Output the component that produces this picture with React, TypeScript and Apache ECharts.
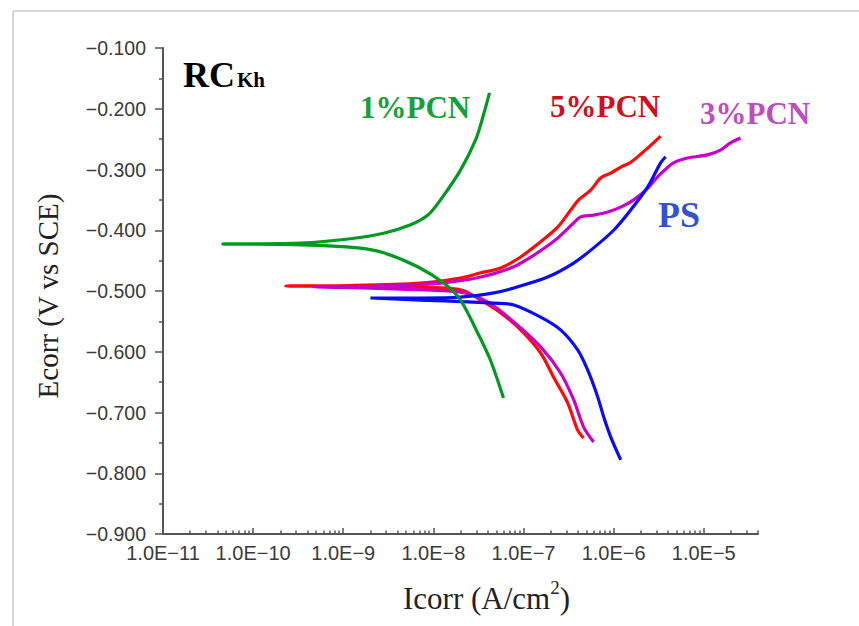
import React, { useEffect, useRef } from 'react';
import * as echarts from 'echarts';

// ---- Data ----
// Each curve runs from the cathodic end, through the corrosion point, to the anodic end.
const pcn1Current = [6.0e-8, 4.3e-8, 3.1e-8, 2.0e-8, 1.3e-8, 6.7e-9, 2.8e-9, 1.45e-9, 3.4e-10, 4.6e-11, 3.4e-10, 1.2e-9, 2.8e-9, 5.6e-9, 8.7e-9, 1.2e-8, 2.0e-8, 2.95e-8, 3.6e-8, 4.2e-8];
const pcn1Potential = [-0.676, -0.614, -0.569, -0.515, -0.487, -0.46, -0.437, -0.429, -0.424, -0.4226, -0.421, -0.414, -0.405, -0.391, -0.375, -0.35, -0.301, -0.251, -0.21, -0.174];

const pcn5Current = [4.65e-7, 3.99e-7, 3.09e-7, 2.16e-7, 1.55e-7, 9.3e-8, 5.6e-8, 3.35e-8, 2.0e-8, 4.4e-9, 4.7e-10, 2.3e-10, 1.2e-9, 7.2e-9, 2.0e-8, 3.35e-8, 5.6e-8, 9.3e-8, 1.55e-7, 2.39e-7, 3.33e-7, 4.09e-7, 5.56e-7, 7.18e-7, 9.27e-7, 1.2e-6, 1.55e-6, 2.38e-6, 3.32e-6];
const pcn5Potential = [-0.742, -0.729, -0.684, -0.642, -0.602, -0.564, -0.536, -0.515, -0.498, -0.493, -0.492, -0.4918, -0.491, -0.487, -0.4786, -0.47, -0.462, -0.444, -0.419, -0.395, -0.367, -0.35, -0.334, -0.314, -0.306, -0.296, -0.288, -0.265, -0.245];

const pcn3Current = [6.0e-7, 4.65e-7, 3.6e-7, 2.58e-7, 1.55e-7, 7.8e-8, 4.0e-8, 2.0e-8, 4.4e-9, 9.4e-10, 4.7e-10, 2.6e-9, 1.2e-8, 3.35e-8, 7.8e-8, 1.43e-7, 2.39e-7, 3.6e-7, 4.3e-7, 6.0e-7, 8.6e-7, 1.2e-6, 1.67e-6, 2.38e-6, 3.08e-6, 4.62e-6, 6.6e-6, 1.1e-5, 1.53e-5, 1.98e-5, 2.56e-5];
const pcn3Potential = [-0.7486, -0.724, -0.679, -0.635, -0.592, -0.551, -0.518, -0.502, -0.497, -0.494, -0.493, -0.492, -0.487, -0.477, -0.46, -0.437, -0.413, -0.388, -0.378, -0.375, -0.37, -0.362, -0.35, -0.331, -0.312, -0.289, -0.281, -0.276, -0.268, -0.256, -0.248];

const psCurrent = [1.2e-6, 9.27e-7, 7.75e-7, 6.65e-7, 5.15e-7, 3.99e-7, 2.58e-7, 1.55e-7, 7.8e-8, 4.7e-8, 2.4e-8, 7.2e-9, 2.0e-9, 7.2e-9, 2.0e-8, 4.7e-8, 7.8e-8, 1.85e-7, 3.6e-7, 6.0e-7, 1.0e-6, 1.54e-6, 2.38e-6, 3.32e-6, 3.78e-6];
const psPotential = [-0.778, -0.74, -0.707, -0.674, -0.63, -0.597, -0.564, -0.543, -0.523, -0.52, -0.518, -0.515, -0.5115, -0.5115, -0.51, -0.503, -0.495, -0.477, -0.454, -0.429, -0.4, -0.367, -0.329, -0.289, -0.279];

const xMajorTicks = [1e-11, 1e-10, 1e-9, 1e-8, 1e-7, 1e-6, 1e-5];
const xMin = 1e-11;
const xMax = 4e-5;
const yMin = -0.9;
const yMax = -0.1;
const yInterval = 0.1;

const minorMultipliers = [2, 3, 4, 5, 6, 7, 8, 9];
const xMinorTicks: number[] = [];
xMajorTicks.forEach((d) => {
  minorMultipliers.forEach((m) => {
    const v = m * d;
    if (v <= xMax) xMinorTicks.push(v);
  });
});

const pairs = (xs: number[], ys: number[]) => xs.map((x, i) => [x, ys[i]]);

const AXIS_COLOR = '#555';
const SERIF = '"Liberation Serif", "Times New Roman", serif';
const SANS = '"Liberation Sans", Arial, sans-serif';

const fmtX = (v: number) => {
  const e = Math.round(Math.log10(v));
  return '1.0E' + (e < 0 ? '\u2212' : '') + Math.abs(e);
};
const fmtY = (v: number) => (v < 0 ? '\u2212' : '') + Math.abs(v).toFixed(3);

function lineSeries(name: string, xs: number[], ys: number[], color: string) {
  return {
    name,
    type: 'line',
    xAxisIndex: 0,
    yAxisIndex: 0,
    data: pairs(xs, ys),
    showSymbol: false,
    symbol: 'none',
    smooth: 0.3,
    lineStyle: { color, width: 3.2 },
    itemStyle: { color },
  };
}

export default function App() {
  const ref = useRef<HTMLDivElement>(null);
  useEffect(() => {
    const chart = echarts.init(ref.current!, null, { renderer: 'svg' });
    const option: any = {
      animation: false,
      backgroundColor: '#ffffff',
      grid: { left: 163, top: 48, right: 101, bottom: 92, containLabel: false, outerBoundsMode: 'none' },
      xAxis: [
        {
          type: 'log',
          logBase: 10,
          min: xMin,
          max: xMax,
          position: 'bottom',
          axisLine: { show: true, onZero: false, lineStyle: { color: AXIS_COLOR, width: 2 } },
          axisTick: { show: true, inside: true, length: 6, customValues: xMajorTicks, lineStyle: { color: AXIS_COLOR, width: 1.5 } },
          axisLabel: {
            show: true,
            customValues: xMajorTicks,
            formatter: fmtX,
            margin: 9,
            fontFamily: SANS,
            fontSize: 20,
            color: '#3a3a3a',
          },
          splitLine: { show: false },
          minorTick: { show: false },
        },
        {
          type: 'log',
          logBase: 10,
          min: xMin,
          max: xMax,
          position: 'bottom',
          axisLine: { show: false },
          axisTick: { show: true, inside: true, length: 3.5, customValues: xMinorTicks, lineStyle: { color: AXIS_COLOR, width: 1.5 } },
          axisLabel: { show: false },
          splitLine: { show: false },
        },
      ],
      yAxis: {
        type: 'value',
        min: yMin,
        max: yMax,
        interval: yInterval,
        axisLine: { show: true, onZero: false, lineStyle: { color: AXIS_COLOR, width: 2 } },
        axisTick: { show: true, inside: false, length: 8, lineStyle: { color: AXIS_COLOR, width: 1.5 } },
        minorTick: { show: true, splitNumber: 2, length: 4, lineStyle: { color: AXIS_COLOR, width: 1.5 } },
        axisLabel: {
          formatter: fmtY,
          margin: 17,
          fontFamily: SANS,
          fontSize: 19.5,
          color: '#3a3a3a',
        },
        splitLine: { show: false },
      },
      series: [
        lineSeries('5%PCN', pcn5Current, pcn5Potential, '#ff0a0a'),
        lineSeries('3%PCN', pcn3Current, pcn3Potential, '#c800c8'),
        lineSeries('PS', psCurrent, psPotential, '#0a0aff'),
        lineSeries('1%PCN', pcn1Current, pcn1Potential, '#009a20'),
      ],
      graphic: [
        { type: 'line', shape: { x1: 13, y1: 11, x2: 870, y2: 11 }, style: { stroke: '#d6d6d6', lineWidth: 2 }, silent: true },
        { type: 'line', shape: { x1: 13, y1: 11, x2: 13, y2: 640 }, style: { stroke: '#d6d6d6', lineWidth: 2 }, silent: true },
        {
          type: 'text', x: 183, y: 75,
          style: { text: 'RC', font: `bold 36px ${SERIF}`, fill: '#000', textAlign: 'left', textVerticalAlign: 'middle' },
        },
        {
          type: 'text', x: 237, y: 80,
          style: { text: 'Kh', font: `bold 21px ${SERIF}`, fill: '#000', textAlign: 'left', textVerticalAlign: 'middle' },
        },
        {
          type: 'text', x: 360, y: 107,
          style: { text: '1%PCN', font: `bold 31px ${SERIF}`, fill: '#17a03a', textAlign: 'left', textVerticalAlign: 'middle' },
        },
        {
          type: 'text', x: 550, y: 106,
          style: { text: '5%PCN', font: `bold 31px ${SERIF}`, fill: '#d01020', textAlign: 'left', textVerticalAlign: 'middle' },
        },
        {
          type: 'text', x: 700, y: 113,
          style: { text: '3%PCN', font: `bold 31px ${SERIF}`, fill: '#c04cc0', textAlign: 'left', textVerticalAlign: 'middle' },
        },
        {
          type: 'text', x: 658, y: 215,
          style: { text: 'PS', font: `bold 36px ${SERIF}`, fill: '#3352d0', textAlign: 'left', textVerticalAlign: 'middle' },
        },
        {
          type: 'text', x: 48, y: 296, rotation: Math.PI / 2,
          style: { text: 'Ecorr (V vs SCE)', font: `29px ${SERIF}`, fill: '#222', textAlign: 'center', textVerticalAlign: 'middle' },
        },
        {
          type: 'text', x: 403, y: 598,
          style: {
            text: '{a|Icorr (A/cm}{s|2}{a|)}',
            textAlign: 'left',
            textVerticalAlign: 'middle',
            rich: {
              a: { fontFamily: SERIF, fontSize: 31, lineHeight: 40, fill: '#222', color: '#222' },
              s: { fontFamily: SERIF, fontSize: 19, lineHeight: 19, verticalAlign: 'top', fill: '#222', color: '#222' },
            },
          },
        },
      ],
    };
    chart.setOption(option);
    return () => chart.dispose();
  }, []);
  return (
    <div
      ref={ref}
      style={{ position: 'fixed', left: 0, top: 0, width: 859, height: 626, background: '#fff' }}
    />
  );
}
